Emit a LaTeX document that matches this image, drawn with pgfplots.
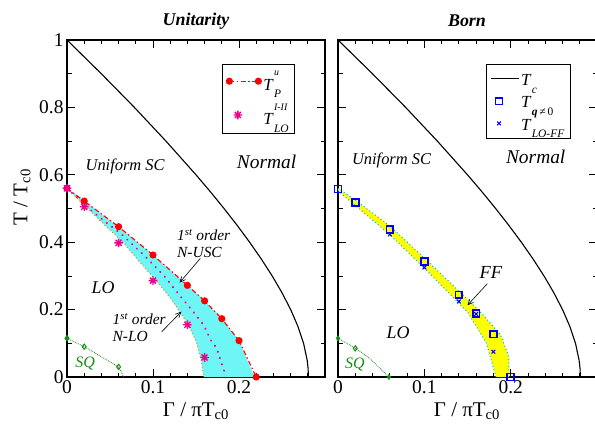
\documentclass[border=0pt]{standalone}
\usepackage{amsmath}
\usepackage{fontspec}
\setmainfont{Liberation Serif}
\usepackage{pgfplots}
\pgfplotsset{compat=1.18}
\usetikzlibrary{arrows.meta}

\definecolor{fillcyan}{RGB}{110,245,245}
\definecolor{sqgreen}{RGB}{20,140,20}
\definecolor{ffyellow}{RGB}{255,255,0}

% eight-armed star, as in the original plot
\pgfdeclareplotmark{ast8}{%
  \pgfpathmoveto{\pgfqpoint{-\pgfplotmarksize}{0pt}}\pgfpathlineto{\pgfqpoint{\pgfplotmarksize}{0pt}}%
  \pgfpathmoveto{\pgfqpoint{0pt}{-\pgfplotmarksize}}\pgfpathlineto{\pgfqpoint{0pt}{\pgfplotmarksize}}%
  \pgfpathmoveto{\pgfqpoint{-0.707\pgfplotmarksize}{-0.707\pgfplotmarksize}}\pgfpathlineto{\pgfqpoint{0.707\pgfplotmarksize}{0.707\pgfplotmarksize}}%
  \pgfpathmoveto{\pgfqpoint{-0.707\pgfplotmarksize}{0.707\pgfplotmarksize}}\pgfpathlineto{\pgfqpoint{0.707\pgfplotmarksize}{-0.707\pgfplotmarksize}}%
  \pgfusepathqstroke}

% T with stacked super/subscript
\newcommand{\TT}[2]{\textit{T}\kern0.3bp\raisebox{-1.0ex}{\rlap{\raisebox{2.9ex}{\fontsize{10}{10}\selectfont\itshape #1}}\fontsize{11.5}{12}\selectfont\itshape #2}}

\pgfplotsset{
  panel/.style={
    scale only axis, height=337bp,
    xmin=0, xmax=0.3, ymin=0, ymax=1,
    xtick={0,0.1,0.2},
    minor xtick={0.02,0.04,0.06,0.08,0.12,0.14,0.16,0.18,0.22,0.24,0.26,0.28},
    ytick={0,0.2,0.4,0.6,0.8,1},
    minor ytick={0.1,0.3,0.5,0.7,0.9},
    tick align=inside, major tick length=8bp, minor tick length=4.5bp,
    every tick/.style={black, line width=0.8bp},
    axis line style={line width=1.2bp},
    tick label style={font=\fontsize{19.5}{20}\selectfont},
    /pgf/number format/assume math mode=true,
    clip=false,
    legend style={draw=black, line width=0.7bp, font=\fontsize{17}{18}\selectfont,
      cells={anchor=west}, inner xsep=4bp, inner ysep=4.5bp},
  },
  tcline/.style={black, line width=1.1bp},
  twomarks/.style={legend image code/.code={\draw[##1] plot coordinates {(0bp,0bp) (29bp,0bp)};}},
  longline/.style={legend image code/.code={\draw[##1] (0bp,0bp) -- (28bp,0bp);}},
}

\begin{document}
\begin{tikzpicture}[x=1bp,y=1bp]
% ---------------- Unitarity ----------------
\begin{axis}[panel, width=258bp, at={(67bp,46bp)}, anchor=south west,
  legend style={at={(0.884,0.929)}, anchor=north east, row sep=8bp}]
\addplot[fill=fillcyan, draw=none, forget plot] coordinates {
  (0,0.56) (0.02,0.522) (0.06,0.446) (0.1,0.362) (0.14,0.272) (0.16,0.226) (0.18,0.173) (0.2,0.108) (0.218,0)
  (0.159,0) (0.156,0.05) (0.151,0.10) (0.142,0.15) (0.131,0.194) (0.12,0.235) (0.104,0.285)
  (0.085,0.34) (0.065,0.40) (0.04,0.46) (0.02,0.51) (0,0.56)} -- cycle;
\addplot[orange, line width=1bp, dash pattern=on 1bp off 2.5bp, forget plot] coordinates {
  (0,0.56) (0.02,0.51) (0.04,0.46) (0.065,0.40) (0.085,0.34) (0.104,0.285) (0.12,0.235)
  (0.131,0.194) (0.142,0.15) (0.151,0.10) (0.156,0.05) (0.159,0)};
\addplot[magenta, line width=2.2bp, dash pattern=on 0.1bp off 6.5bp, line cap=round, forget plot] coordinates {
  (0,0.56) (0.03,0.49) (0.065,0.42) (0.09,0.36) (0.113,0.30) (0.127,0.255) (0.146,0.196)
  (0.159,0.154) (0.167,0.11) (0.174,0.085) (0.183,0.016)};
\addplot[tcline, forget plot] coordinates {
  (0,1) (0.03987,0.9) (0.07834,0.8) (0.11506,0.7) (0.14997,0.6) (0.16662,0.55) (0.18258,0.5)
  (0.19786,0.45) (0.21235,0.4) (0.22596,0.35) (0.23856,0.3) (0.25,0.25) (0.26008,0.2)
  (0.26854,0.15) (0.27509,0.1) (0.27925,0.05) (0.28036,0.025) (0.28073,0)};
\addplot[sqgreen, densely dotted, line width=0.8bp, mark=diamond, mark size=2.6bp,
  mark options={solid, fill=white, line width=1bp}, forget plot] coordinates {
  (0,0.115) (0.02,0.09) (0.06,0.03)};
\addplot[sqgreen, densely dotted, line width=0.8bp, forget plot] coordinates {(0.06,0.03) (0.066,0)};
\addplot[sqgreen, only marks, mark=diamond*, mark size=2.6bp, forget plot] coordinates {(0,0.115)};
\addplot[red, line width=1.1bp, dash pattern=on 5bp off 2.5bp on 1.5bp off 2.5bp,
  mark=*, mark size=3bp, mark options={solid}, twomarks] coordinates {
  (0,0.56) (0.02,0.522) (0.06,0.446) (0.1,0.362) (0.14,0.272) (0.16,0.226) (0.18,0.173) (0.2,0.108) (0.22,0)};
\addlegendentry{\TT{u}{P}}
\addplot[magenta, only marks, mark=ast8, mark size=4.3bp, mark options={line width=1.3bp}] coordinates {
  (0,0.56) (0.02,0.505) (0.06,0.398) (0.1,0.286) (0.14,0.155) (0.16,0.058)};
\addlegendentry{\TT{I-II}{LO}}
% annotations
\node[font=\fontsize{16.5}{18}\selectfont\itshape] at (axis cs:0.0676,0.624) {Uniform SC};
\node[font=\fontsize{19.5}{20}\selectfont\itshape] at (axis cs:0.232,0.637) {Normal};
\node[font=\fontsize{18}{20}\selectfont\itshape] at (axis cs:0.042,0.266) {LO};
\node[font=\fontsize{15.5}{17}\selectfont\itshape, align=left, anchor=west] at (axis cs:0.124,0.396)
  {1\textsuperscript{st} order\\N-USC};
\node[font=\fontsize{15.5}{17}\selectfont\itshape, align=left, anchor=west] at (axis cs:0.049,0.146)
  {1\textsuperscript{st} order\\N-LO};
\node[font=\fontsize{16}{18}\selectfont\itshape, text=sqgreen] at (axis cs:0.021,0.04) {SQ};
\draw[-{Straight Barb[length=6bp,angle=50:6bp]}, line width=0.6bp] (axis cs:0.155,0.352) -- (axis cs:0.131,0.28);
\draw[-{Straight Barb[length=6bp,angle=50:6bp]}, line width=0.6bp] (axis cs:0.110,0.134) -- (axis cs:0.133,0.194);
\end{axis}

% ---------------- Born ----------------
\begin{axis}[panel, width=259bp, at={(338bp,46bp)}, anchor=south west, yticklabels={},
  legend style={at={(0.898,0.929)}, anchor=north east, row sep=2bp}]
\addplot[fill=ffyellow, draw=none, forget plot] coordinates {
  (0,0.56) (0.02,0.525) (0.06,0.448) (0.1,0.353) (0.14,0.255) (0.166,0.19) (0.188,0.126) (0.198,0.06) (0.198,0)
  (0.183,0) (0.172,0.1) (0.151,0.189) (0.139,0.222) (0.1,0.323) (0.06,0.423) (0.02,0.509) (0,0.553)} -- cycle;
\addplot[cyan, line width=1bp, dash pattern=on 1bp off 2.5bp, forget plot] coordinates {
  (0,0.56) (0.02,0.525) (0.06,0.448) (0.1,0.353) (0.14,0.255) (0.166,0.19) (0.188,0.126) (0.198,0.06) (0.198,0)};
\addplot[cyan, line width=1bp, dash pattern=on 1bp off 2.5bp, forget plot] coordinates {
  (0.183,0) (0.172,0.1) (0.151,0.189) (0.139,0.222) (0.1,0.323) (0.06,0.423) (0.02,0.509) (0,0.553)};
\addplot[tcline, longline] coordinates {
  (0,1) (0.03987,0.9) (0.07834,0.8) (0.11506,0.7) (0.14997,0.6) (0.16662,0.55) (0.18258,0.5)
  (0.19786,0.45) (0.21235,0.4) (0.22596,0.35) (0.23856,0.3) (0.25,0.25) (0.26008,0.2)
  (0.26854,0.15) (0.27509,0.1) (0.27925,0.05) (0.28036,0.025) (0.28073,0)};
\addlegendentry{\TT{}{c}}
\addplot[blue, only marks, mark=square, mark size=3.4bp, mark options={line width=1.7bp}] coordinates {
  (0,0.558) (0.02,0.518) (0.06,0.438) (0.1,0.342) (0.14,0.244) (0.16,0.189) (0.18,0.127) (0.2,0)};
\addlegendentry{\TT{}{\textbf{q}\,≠\,\upshape 0}}
\addplot[blue, only marks, mark=x, mark size=2.6bp, mark options={line width=1bp}] coordinates {
  (0.06,0.423) (0.1,0.325) (0.14,0.224) (0.16,0.187) (0.18,0.075)};
\addlegendentry{\TT{}{LO-FF}}
\addplot[sqgreen, densely dotted, line width=0.8bp, smooth, forget plot] coordinates {
  (0,0.115) (0.02,0.085) (0.03,0.068) (0.041,0.045) (0.05,0.022) (0.059,0)};
\addplot[sqgreen, only marks, mark=diamond, mark size=2.6bp, mark options={fill=white, line width=1bp}, forget plot]
  coordinates {(0.02,0.085)};
\addplot[sqgreen, only marks, mark=diamond*, mark size=2.6bp, forget plot] coordinates {(0,0.115) (0.059,0)};
% annotations
\node[font=\fontsize{16.5}{18}\selectfont\itshape] at (axis cs:0.062,0.644) {Uniform SC};
\node[font=\fontsize{19.5}{20}\selectfont\itshape] at (axis cs:0.229,0.654) {Normal};
\node[font=\fontsize{18}{20}\selectfont\itshape] at (axis cs:0.0697,0.131) {LO};
\node[font=\fontsize{18.5}{20}\selectfont\itshape] at (axis cs:0.177,0.31) {FF};
\node[font=\fontsize{16}{18}\selectfont\itshape, text=sqgreen] at (axis cs:0.0196,0.036) {SQ};
\draw[-{Straight Barb[length=6bp,angle=50:6bp]}, line width=0.6bp] (axis cs:0.173,0.277) -- (axis cs:0.15,0.213);
\end{axis}

% titles and axis labels
\node[font=\fontsize{18}{20}\selectfont\bfseries\itshape] at (196,402) {Unitarity};
\node[font=\fontsize{18}{20}\selectfont\bfseries\itshape] at (467,402) {Born};
\node[font=\fontsize{21}{22}\selectfont, rotate=90] at (22,226) {T / T\textsubscript{c0}};
\node[font=\fontsize{21}{22}\selectfont] at (196,12) {Γ / πT\textsubscript{c0}};
\node[font=\fontsize{21}{22}\selectfont] at (467,12) {Γ / πT\textsubscript{c0}};

\pgfresetboundingbox
\path[use as bounding box] (0,0) rectangle (595,423);
\end{tikzpicture}
\end{document}
